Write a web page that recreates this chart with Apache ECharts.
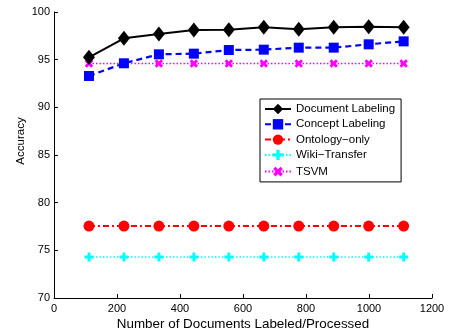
<!DOCTYPE html>
<html><head><meta charset="utf-8">
<script src="https://cdn.jsdelivr.net/npm/echarts@6/dist/echarts.min.js"></script>
<style>html,body{margin:0;padding:0;background:#fff}#c{width:454px;height:331px}</style>
</head><body><div id="c"></div>
<script>
const xValues = [111, 222, 333, 444, 555, 666, 777, 888, 999, 1110];
const documentLabeling = [95.25, 97.24, 97.69, 98.11, 98.15, 98.39, 98.18, 98.39, 98.46, 98.39];
const conceptLabeling = [93.29, 94.62, 95.56, 95.63, 96.01, 96.05, 96.26, 96.26, 96.61, 96.92];
const ontologyOnly = [77.55, 77.55, 77.55, 77.55, 77.55, 77.55, 77.55, 77.55, 77.55, 77.55];
const wikiTransfer = [74.3, 74.3, 74.3, 74.3, 74.3, 74.3, 74.3, 74.3, 74.3, 74.3];
const tsvm = [94.6, 94.6, 94.6, 94.6, 94.6, 94.6, 94.6, 94.6, 94.6, 94.6];
const seriesNames = ['Document Labeling', 'Concept Labeling', 'Ontology\u2212only', 'Wiki\u2212Transfer', 'TSVM'];

const pair = arr => xValues.map((x, i) => [x, arr[i]]);
const plus = 'path://M-1.6,-5 h3.2 v3.4 h3.4 v3.2 h-3.4 v3.4 h-3.2 v-3.4 h-3.4 v-3.2 h3.4z';
const font = 'Liberation Sans, Arial, sans-serif';

const chart = echarts.init(document.getElementById('c'), null, {renderer: 'canvas'});
chart.setOption({
  animation: false,
  textStyle: {fontFamily: font},
  grid: {left: 54, right: 22, top: 12, bottom: 33, outerBoundsMode: 'none', containLabel: false},
  legend: {
    orient: 'vertical', left: 260, top: 99,
    itemWidth: 26, itemHeight: 13, itemGap: 3.3,
    padding: [4, 6, 3, 4],
    backgroundColor: '#fff', borderColor: '#000', borderWidth: 1,
    textStyle: {fontFamily: font, fontSize: 11.5, color: '#000'},
    data: seriesNames
  },
  xAxis: {
    type: 'value', min: 0, max: 1200, interval: 200,
    name: 'Number of Documents Labeled/Processed', nameLocation: 'middle', nameGap: 20,
    nameMoveOverlap: false,
    nameTextStyle: {fontSize: 13.4, color: '#000', fontFamily: font},
    axisLine: {lineStyle: {color: '#000', width: 1}},
    axisTick: {inside: true, length: 4, lineStyle: {color: '#000'}},
    axisLabel: {color: '#000', fontSize: 11, margin: 5, fontFamily: font, formatter: v => String(v)},
    splitLine: {show: false}
  },
  yAxis: {
    type: 'value', min: 70, max: 100, interval: 5,
    name: 'Accuracy', nameLocation: 'middle', nameGap: 27,
    nameMoveOverlap: false,
    nameTextStyle: {fontSize: 11.5, color: '#000', fontFamily: font, padding: [0, 0, 0, 28]},
    axisLine: {show: true, lineStyle: {color: '#000', width: 1}},
    axisTick: {show: true, inside: true, length: 4, lineStyle: {color: '#000'}},
    axisLabel: {color: '#000', fontSize: 11, margin: 4, fontFamily: font},
    splitLine: {show: false}
  },
  series: [
    {name: seriesNames[0], type: 'line', data: pair(documentLabeling),
     symbol: 'diamond', symbolSize: [12, 15],
     lineStyle: {color: '#000', width: 2}, itemStyle: {color: '#000'}, z: 5},
    {name: seriesNames[1], type: 'line', data: pair(conceptLabeling),
     symbol: 'rect', symbolSize: 10,
     lineStyle: {color: '#0000ff', width: 2.2, type: [6, 4]}, itemStyle: {color: '#0000ff'}, z: 4},
    {name: seriesNames[2], type: 'line', data: pair(ontologyOnly),
     symbol: 'circle', symbolSize: 11,
     lineStyle: {color: '#ff0000', width: 2, type: [6, 3, 2, 3]}, itemStyle: {color: '#ff0000'}, z: 3},
    {name: seriesNames[3], type: 'line', data: pair(wikiTransfer),
     symbol: plus, symbolSize: 9,
     lineStyle: {color: '#00ffff', width: 1.5, type: [1.5, 2]}, itemStyle: {color: '#00ffff'}, z: 2},
    {name: seriesNames[4], type: 'line', data: pair(tsvm),
     symbol: plus, symbolSize: 9, symbolRotate: 45,
     lineStyle: {color: '#ff00ff', width: 1.5, type: [1.5, 2]}, itemStyle: {color: '#ff00ff'}, z: 3}
  ]
});
</script></body></html>
